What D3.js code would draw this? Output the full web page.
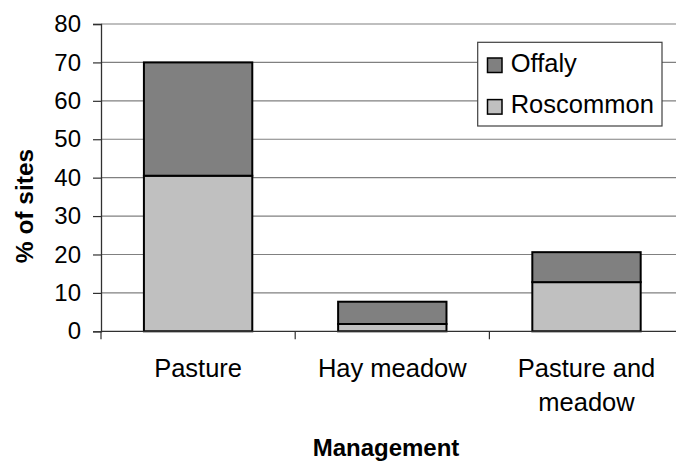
<!DOCTYPE html>
<html>
<head>
<meta charset="utf-8">
<script src="https://cdn.jsdelivr.net/npm/d3@7"></script>
<style>
  html, body { margin: 0; padding: 0; background: #fff; }
  svg { display: block; font-family: "Liberation Sans", Arial, sans-serif; }
</style>
</head>
<body>
<svg id="chart" width="676" height="462"></svg>
<script>
const categories = [["Pasture"], ["Hay meadow"], ["Pasture and", "meadow"]];
const categoryKeys = ["Pasture", "Hay meadow", "Pasture and meadow"];
const seriesNames = ["Roscommon", "Offaly"];
const roscommon = [40.5, 1.9, 12.8];
const offaly = [29.5, 5.8, 7.8];
const yTicks = [0, 10, 20, 30, 40, 50, 60, 70, 80];
const colors = { Roscommon: "#c0c0c0", Offaly: "#808080" };

const svg = d3.select("#chart");
const plotLeft = 101, plotRight = 683.6, plotTop = 24, plotBottom = 331.3;

const x = d3.scaleBand().domain(categoryKeys).range([plotLeft, plotRight])
  .paddingInner(0.442).paddingOuter(0.221);
const y = d3.scaleLinear().domain([0, 80]).range([plotBottom, plotTop]);

const rows = categoryKeys.map((k, i) => ({ key: k, Roscommon: roscommon[i], Offaly: offaly[i] }));
const stacked = d3.stack().keys(seriesNames)(rows);

// gridlines
svg.append("g").selectAll("line").data(yTicks.filter(d => d > 0)).join("line")
  .attr("x1", plotLeft).attr("x2", 676)
  .attr("y1", d => y(d)).attr("y2", d => y(d))
  .attr("stroke", "#808080").attr("stroke-width", 1.2);

// y axis
const yAxis = d3.axisLeft(y).tickValues(yTicks).tickSize(8).tickPadding(12).tickFormat(d3.format("d"));
const gy = svg.append("g").attr("transform", `translate(${plotLeft},0)`).call(yAxis);
gy.select(".domain").attr("stroke", "#303030").attr("stroke-width", 1.3);
gy.selectAll(".tick line").attr("stroke", "#303030").attr("stroke-width", 1.2);
gy.selectAll(".tick text").attr("font-size", 24).attr("fill", "#000")
  .attr("font-family", "Liberation Sans, Arial, sans-serif");

// bars
svg.append("g").selectAll("g").data(stacked).join("g")
  .attr("fill", d => colors[d.key])
  .selectAll("rect").data(d => d).join("rect")
  .attr("x", d => x(d.data.key))
  .attr("width", x.bandwidth())
  .attr("y", d => y(d[1]))
  .attr("height", d => y(d[0]) - y(d[1]))
  .attr("stroke", "#000").attr("stroke-width", 2);

// x axis line and ticks
const gx = svg.append("g");
gx.append("line").attr("x1", plotLeft).attr("x2", 676).attr("y1", plotBottom).attr("y2", plotBottom)
  .attr("stroke", "#303030").attr("stroke-width", 1.3);
const step = x.step();
gx.selectAll("line.tk").data(d3.range(categoryKeys.length)).join("line").attr("class", "tk")
  .attr("x1", i => plotLeft + i * step).attr("x2", i => plotLeft + i * step)
  .attr("y1", plotBottom).attr("y2", plotBottom + 8)
  .attr("stroke", "#303030").attr("stroke-width", 1.2);

// category labels
const lbl = svg.append("g").selectAll("text").data(categories).join("text")
  .attr("x", (d, i) => x(categoryKeys[i]) + x.bandwidth() / 2)
  .attr("y", 377)
  .attr("text-anchor", "middle").attr("font-size", 25.5).attr("fill", "#000");
lbl.selectAll("tspan").data(d => d).join("tspan")
  .attr("x", function() { return d3.select(this.parentNode).attr("x"); })
  .attr("dy", (d, i) => i === 0 ? 0 : 34)
  .text(d => d);

// axis titles
svg.append("text").attr("x", 386).attr("y", 456).attr("text-anchor", "middle")
  .attr("font-size", 24).attr("font-weight", "bold").text("Management");
svg.append("text").attr("transform", "translate(33,206) rotate(-90)")
  .attr("text-anchor", "middle").attr("font-size", 24.5).attr("font-weight", "bold").text("% of sites");

// legend
const lg = svg.append("g");
lg.append("rect").attr("x", 477.7).attr("y", 42.3).attr("width", 184.3).attr("height", 83.7)
  .attr("fill", "#fff").attr("stroke", "#404040").attr("stroke-width", 1.2);
const legendItems = ["Offaly", "Roscommon"];
legendItems.forEach((name, i) => {
  lg.append("rect").attr("x", 487.5).attr("y", 58 + i * 41.6).attr("width", 14.5).attr("height", 14.5)
    .attr("fill", colors[name]).attr("stroke", "#000").attr("stroke-width", 1.5);
  lg.append("text").attr("x", 510.7).attr("y", 72.3 + i * 41).attr("font-size", 25.5)
    .attr("fill", "#000").text(name);
});
</script>
</body>
</html>
